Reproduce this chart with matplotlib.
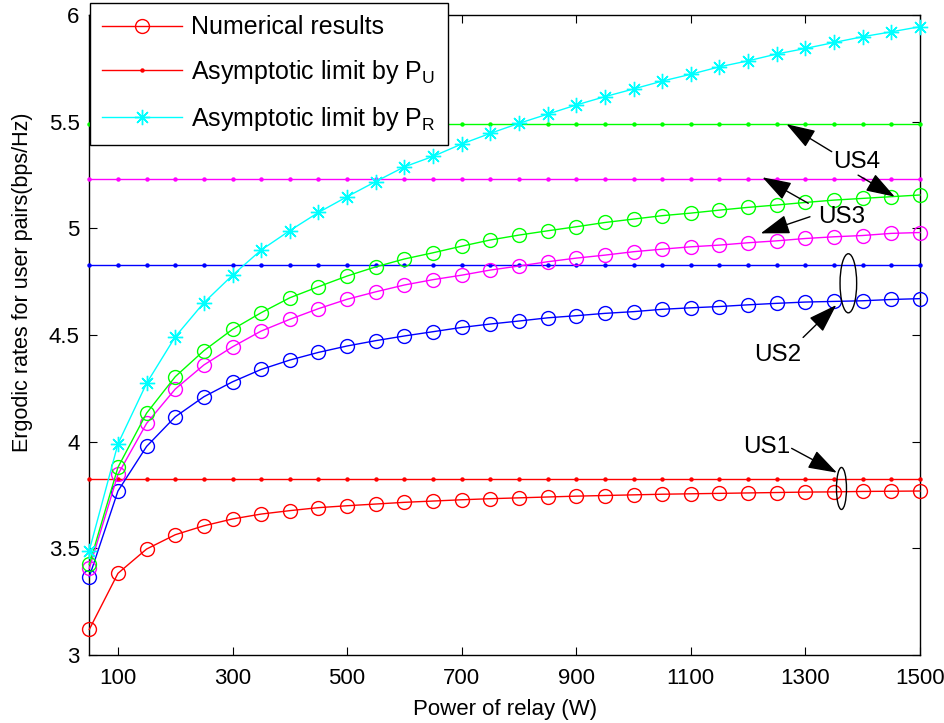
import matplotlib
matplotlib.use("Agg")
import matplotlib.pyplot as plt
from matplotlib.patches import Ellipse

plt.rcParams['font.family'] = ['Liberation Sans', 'DejaVu Sans']
plt.rcParams['mathtext.fontset'] = 'custom'
plt.rcParams['mathtext.rm'] = 'Liberation Sans'
plt.rcParams['mathtext.it'] = 'Liberation Sans'

power = [50, 100, 150, 200, 250, 300, 350, 400, 450, 500, 550, 600, 650, 700, 750,
         800, 850, 900, 950, 1000, 1050, 1100, 1150, 1200, 1250, 1300, 1350, 1400, 1450, 1500]

us1 = [3.12, 3.383, 3.497, 3.564, 3.606, 3.638, 3.661, 3.677, 3.691, 3.70, 3.708, 3.716,
       3.722, 3.728, 3.733, 3.737, 3.741, 3.745, 3.748, 3.751, 3.754, 3.756, 3.758, 3.760,
       3.762, 3.764, 3.765, 3.767, 3.768, 3.769]
us2 = [3.367, 3.769, 3.978, 4.117, 4.211, 4.281, 4.339, 4.383, 4.419, 4.449, 4.474, 4.496,
       4.516, 4.536, 4.552, 4.566, 4.581, 4.591, 4.602, 4.61, 4.621, 4.628, 4.634, 4.642,
       4.649, 4.655, 4.658, 4.661, 4.667, 4.671]
us3 = [3.406, 3.847, 4.086, 4.247, 4.36, 4.445, 4.519, 4.574, 4.624, 4.668, 4.703, 4.735,
       4.76, 4.781, 4.805, 4.824, 4.844, 4.861, 4.875, 4.891, 4.903, 4.914, 4.922, 4.933,
       4.942, 4.953, 4.961, 4.967, 4.977, 4.981]
us4 = [3.425, 3.88, 4.134, 4.305, 4.427, 4.527, 4.605, 4.675, 4.727, 4.777, 4.82, 4.857,
       4.886, 4.917, 4.946, 4.969, 4.989, 5.008, 5.028, 5.044, 5.06, 5.072, 5.086, 5.099,
       5.11, 5.122, 5.133, 5.141, 5.149, 5.157]
limit_pr = [3.49, 3.99, 4.274, 4.492, 4.652, 4.781, 4.899, 4.99, 5.075, 5.149, 5.22, 5.289,
            5.338, 5.396, 5.446, 5.493, 5.536, 5.579, 5.618, 5.654, 5.691, 5.723, 5.758,
            5.786, 5.818, 5.844, 5.872, 5.899, 5.922, 5.946]
limit_pu = {'US1': 3.826, 'US2': 4.83, 'US3': 5.233, 'US4': 5.492}

colors = {'US1': (1, 0, 0), 'US2': (0, 0, 1), 'US3': (1, 0, 1), 'US4': (0, 1, 0)}
numerical = {'US1': us1, 'US2': us2, 'US3': us3, 'US4': us4}

xticks = [100, 300, 500, 700, 900, 1100, 1300, 1500]
yticks = [3, 3.5, 4, 4.5, 5, 5.5, 6]
ytick_labels = ['3', '3.5', '4', '4.5', '5', '5.5', '6']

fig = plt.figure(figsize=(9.45, 7.23), dpi=100)
ax = fig.add_axes([0.0945, 0.094, 0.879, 0.885])

handles = {}
for key in ['US1', 'US2', 'US3', 'US4']:
    c = colors[key]
    h2, = ax.plot(power, [limit_pu[key]] * len(power), color=c, lw=1.0, marker='o',
                  markersize=3.2, markeredgewidth=0, clip_on=False, zorder=3)
    h1, = ax.plot(power, numerical[key], color=c, lw=1.0, marker='o', markersize=10,
                  markerfacecolor='none', markeredgewidth=1.0, clip_on=False, zorder=4)
    if key == 'US1':
        handles['num'] = h1
        handles['pu'] = h2

h3, = ax.plot(power, limit_pr, color=(0, 1, 1), lw=1.0, marker=(8, 2, 0), markersize=11,
              markeredgewidth=1.0, clip_on=False, zorder=4)

ax.set_xlim(50, 1500)
ax.set_ylim(3, 6)
ax.set_xticks(xticks)
ax.set_yticks(yticks)
ax.set_yticklabels(ytick_labels)
ax.tick_params(direction='in', top=True, right=True, labelsize=16, length=6, width=0.8)
ax.tick_params(axis='x', pad=9)
ax.tick_params(axis='y', pad=7)
for s in ax.spines.values():
    s.set_linewidth(1.0)
ax.set_xlabel('Power of relay (W)', fontsize=16)
ax.xaxis.set_label_coords(0.5, -0.068)
ax.set_ylabel('Ergodic rates for user pairs(bps/Hz)', fontsize=15.5)
ax.yaxis.set_label_coords(-0.0678, 0.583)

leg = fig.legend([handles['num'], handles['pu'], h3],
                 ['Numerical results', r'Asymptotic limit by P$_\mathregular{U}$',
                  r'Asymptotic limit by P$_\mathregular{R}$'],
                 loc='upper left', bbox_to_anchor=(0.0952, 0.9959),
                 bbox_transform=fig.transFigure, fontsize=18, frameon=True,
                 fancybox=False, edgecolor='k', framealpha=1, handlelength=3.2,
                 labelspacing=0.75, borderpad=0.5, handletextpad=0.35, borderaxespad=0)
leg.get_frame().set_linewidth(1.0)

arrow_kw = dict(arrowstyle='-|>,head_length=0.9,head_width=0.3', color='k', lw=1.0,
                shrinkA=0, shrinkB=0, mutation_scale=20)

# US4
ax.text(1389, 5.313, 'US4', fontsize=17.5, ha='center', va='center', zorder=6)
ax.annotate('', xy=(1267, 5.489), xytext=(1346, 5.36), arrowprops=arrow_kw, zorder=6)
ax.annotate('', xy=(1456, 5.149), xytext=(1392, 5.25), arrowprops=arrow_kw, zorder=6)
# US3
ax.text(1363, 5.055, 'US3', fontsize=17.5, ha='center', va='center', zorder=6)
ax.annotate('', xy=(1225, 5.24), xytext=(1305, 5.118), arrowprops=arrow_kw, zorder=6)
ax.annotate('', xy=(1222, 4.977), xytext=(1308, 5.055), arrowprops=arrow_kw, zorder=6)
# US2
ax.add_patch(Ellipse((1375, 4.743), 29, 0.277, fill=False, ec='k', lw=1.0, zorder=6))
ax.text(1252, 4.406, 'US2', fontsize=17.5, ha='center', va='center', zorder=6)
ax.annotate('', xy=(1354, 4.641), xytext=(1296, 4.489), arrowprops=arrow_kw, zorder=6)
# US1
ax.add_patch(Ellipse((1363, 3.781), 17.5, 0.197, fill=False, ec='k', lw=1.0, zorder=6))
ax.text(1232, 3.977, 'US1', fontsize=17.5, ha='center', va='center', zorder=6)
ax.annotate('', xy=(1355, 3.855), xytext=(1276, 3.969), arrowprops=arrow_kw, zorder=6)

fig.savefig('out.png', dpi=100)
